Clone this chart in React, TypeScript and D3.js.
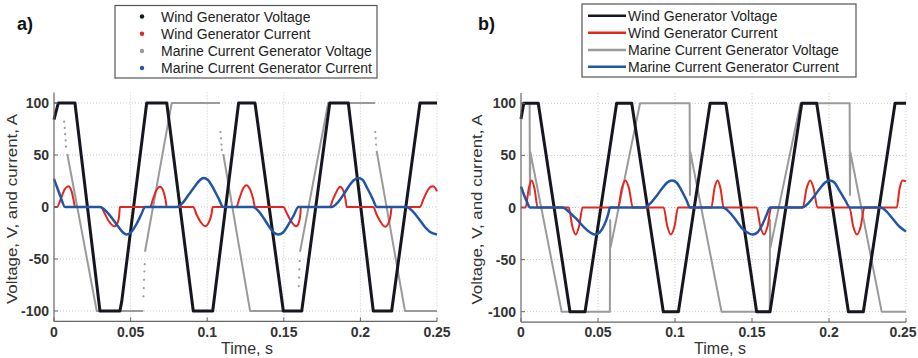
import React from "react";
import * as d3 from "d3";

type P = [number, number];
type Pn = P | null;

const xTicks = [0, 0.05, 0.1, 0.15, 0.2, 0.25];
const xTickLabels = ["0", "0.05", "0.1", "0.15", "0.2", "0.25"];
const yTicks = [100, 50, 0, -50, -100];
const yTickLabels = ["100", "50", "0", "-50", "-100"];
const seriesNames = [
  "Wind Generator Voltage",
  "Wind Generator Current",
  "Marine Current Generator Voltage",
  "Marine Current Generator Current",
];
const seriesColors = ["#16161e", "#e3261e", "#9a9a9a", "#2256a4"];

// ---------- panel a) (sampled points) ----------
const aWindVoltage: Pn[] = [
  [0, 84], [0.0028, 100], [0.0137, 100], [0.0144, 91], [0.03, -100], [0.043, -100],
  [0.0442, -91], [0.0605, 100], [0.0736, 100], [0.0909, -100], [0.1036, -100],
  [0.1205, 100], [0.1312, 100], [0.1497, -100], [0.1617, -100], [0.18, 100],
  [0.1921, 100], [0.2084, -100], [0.2204, -100], [0.2389, 100], [0.25, 100],
];
const aWindCurrent: Pn[] = [
  [0, 0], [0.002, 0], [0.0045, 8], [0.007, 17], [0.0093, 20], [0.0115, 15], [0.013, 5], [0.0137, 0],
  [0.0305, 0], [0.033, -6], [0.0355, -13], [0.038, -17.5], [0.0398, -18.5], [0.0415, -15], [0.0425, -9], [0.043, 0],
  [0.0627, 0], [0.0645, 7], [0.0665, 15], [0.0692, 19.5], [0.0712, 16], [0.0728, 7], [0.0736, 0],
  [0.0909, 0], [0.093, -7], [0.0955, -14], [0.0986, -18.5], [0.101, -15], [0.1028, -7], [0.1036, 0],
  [0.119, 0], [0.121, 8], [0.1232, 17], [0.1255, 21], [0.128, 17], [0.13, 8], [0.1312, 0],
  [0.1497, 0], [0.152, -6], [0.1545, -13], [0.1568, -17.5], [0.1582, -18.5], [0.1598, -15], [0.1608, -7], [0.1612, 0],
  [0.18, 0], [0.182, 7], [0.1845, 15], [0.1867, 19.5], [0.1888, 16], [0.1903, 7], [0.1911, 0],
  [0.2084, 0], [0.2105, -7], [0.213, -14], [0.2161, -19], [0.2185, -15], [0.2198, -7], [0.2204, 0],
  [0.2389, 0], [0.241, 7], [0.2435, 15], [0.246, 19.5], [0.2476, 20], [0.249, 18], [0.25, 15],
];
const aMarineVoltage: Pn[] = [
  [0, 100], [0.0058, 100], null,
  [0.0087, 51], [0.0279, -100], [0.0583, -100], null,
  [0.0594, -43], [0.0768, 100], [0.1084, 100], null,
  [0.1105, 51], [0.128, -100], [0.1595, -100], null,
  [0.1606, -43], [0.179, 100], [0.2095, 100], null,
  [0.2106, 54], [0.2291, -100], [0.25, -100],
];
const aMarineVoltageSparse: P[] = [
  [0.0066, 82], [0.007, 76], [0.0073, 70], [0.0076, 64], [0.0079, 58],
  [0.0584, -86], [0.0586, -78], [0.0588, -70], [0.059, -62], [0.0592, -55],
  [0.1087, 72], [0.109, 66], [0.1093, 60], [0.1096, 55],
  [0.1598, -76], [0.16, -68], [0.1602, -60], [0.1604, -52],
  [0.2097, 72], [0.21, 66], [0.2103, 60],
];
const aMarineCurrent: Pn[] = [
  [0, 27], [0.002, 19], [0.0045, 9], [0.0072, 0],
  [0.03, 0], [0.034, -4], [0.038, -11], [0.042, -19], [0.045, -24.5], [0.0474, -26.5], [0.0505, -24], [0.054, -16], [0.057, -7], [0.0594, 0],
  [0.08, 0], [0.084, 4], [0.088, 12], [0.092, 20], [0.095, 25.5], [0.0975, 28], [0.1005, 26], [0.104, 18], [0.1075, 8], [0.1105, 0],
  [0.13, 0], [0.1335, -4], [0.137, -11], [0.1405, -19], [0.1435, -24.5], [0.1464, -26.5], [0.1495, -24.5], [0.153, -17], [0.1565, -8], [0.1595, 0],
  [0.1813, 0], [0.185, 4], [0.189, 12], [0.1925, 20], [0.1955, 25.5], [0.1986, 28], [0.2015, 26], [0.2045, 18], [0.208, 8], [0.2106, 0],
  [0.2302, 0], [0.234, -4], [0.238, -11], [0.242, -19], [0.2455, -24], [0.25, -26.5],
];

// ---------- panel b) (continuous lines) ----------
const bWindVoltage: Pn[] = [
  [0, 85], [0.0018, 100], [0.0112, 100], [0.0318, -100], [0.0416, -100], [0.0621, 100],
  [0.0719, 100], [0.0924, -100], [0.1022, -100], [0.1228, 100], [0.133, 100], [0.153, -100],
  [0.1617, -100], [0.1823, 100], [0.192, 100], [0.2126, -100], [0.2223, -100], [0.2429, 100], [0.25, 100],
];
const bWindCurrent: Pn[] = [
  [0, 0], [0.003, 0], [0.005, 18], [0.0069, 26], [0.0088, 18], [0.0108, 0],
  [0.031, 0], [0.0333, -18], [0.0355, -26], [0.0377, -18], [0.04, 0],
  [0.063, 0], [0.0654, 18], [0.0678, 26], [0.0702, 18], [0.0726, 0],
  [0.0926, 0], [0.095, -18], [0.0973, -26], [0.0997, -18], [0.102, 0],
  [0.1236, 0], [0.1256, 18], [0.1276, 26], [0.1296, 18], [0.1316, 0],
  [0.153, 0], [0.1554, -18], [0.1578, -26], [0.1601, -18], [0.1625, 0],
  [0.183, 0], [0.1854, 18], [0.1878, 26], [0.1901, 18], [0.1925, 0],
  [0.2133, 0], [0.2157, -18], [0.2182, -26], [0.2206, -18], [0.223, 0],
  [0.244, 0], [0.2458, 18], [0.2478, 26], [0.25, 25],
];
const bMarineVoltage: Pn[] = [
  [0, 100], [0.0056, 100], [0.0058, 12], [0.0061, 53], [0.0264, -100],
  [0.0577, -100], [0.0579, -12], [0.0582, -38], [0.0773, 100],
  [0.1095, 100], [0.1097, 12], [0.11, 53], [0.1302, -100],
  [0.1615, -100], [0.1617, -12], [0.162, -38], [0.1815, 100],
  [0.2134, 100], [0.2136, 12], [0.2139, 53], [0.2342, -100], [0.25, -100],
];
const bMarineCurrent: Pn[] = [
  [0, 20], [0.002, 12], [0.004, 5], [0.0058, 0],
  [0.027, 0], [0.031, -4], [0.036, -11], [0.041, -19], [0.045, -24], [0.048, -26], [0.051, -24], [0.054, -17], [0.0565, -7], [0.0578, 0],
  [0.08, 0], [0.084, 4], [0.088, 11], [0.092, 19], [0.095, 24], [0.098, 26], [0.101, 24], [0.104, 17], [0.1075, 7], [0.1097, 0],
  [0.131, 0], [0.135, -4], [0.139, -11], [0.143, -19], [0.147, -24], [0.1505, -26], [0.1535, -24], [0.1565, -17], [0.1595, -7], [0.1617, 0],
  [0.1825, 0], [0.1865, 4], [0.1905, 11], [0.1945, 19], [0.1975, 24], [0.2005, 26], [0.2035, 24], [0.2065, 17], [0.2105, 7], [0.2136, 0],
  [0.2335, 0], [0.2375, -4], [0.2415, -11], [0.2455, -18], [0.25, -23],
];

const FONT = "'Liberation Sans', Arial, Helvetica, sans-serif";

type PanelProps = {
  tag: string;
  tagX: number;
  xr: [number, number];
  yr: [number, number];
  ytitleX: number;
  xtitleX: number;
  dots: boolean;
  windV: Pn[];
  windI: Pn[];
  marineV: Pn[];
  marineI: Pn[];
  sparse?: P[];
  legend: { x: number; y: number; w: number; h: number; rows: number[] };
};

function Panel(p: PanelProps) {
  const x = d3.scaleLinear().domain([0, 0.25]).range(p.xr);
  const y = d3.scaleLinear().domain([-110, 110]).range(p.yr);
  const line = d3
    .line<Pn>()
    .defined((d) => d !== null)
    .x((d) => x((d as P)[0]))
    .y((d) => y((d as P)[1]));
  const smooth = d3
    .line<Pn>()
    .defined((d) => d !== null)
    .x((d) => x((d as P)[0]))
    .y((d) => y((d as P)[1]))
    .curve(d3.curveMonotoneX);
  const [x0, x1] = p.xr;
  const yb = p.yr[0];
  const yt = p.yr[1];
  const lg = p.legend;
  return (
    <g>
      <text x={p.tagX} y={30} fontFamily={FONT} fontWeight="bold" fontSize={18} fill="#111">
        {p.tag}
      </text>
      {/* grid */}
      {xTicks.slice(1).map((t) => (
        <line key={"gx" + t} x1={x(t)} x2={x(t)} y1={yb} y2={yt} stroke="#c8c8c8" strokeWidth={1} strokeDasharray="1 2" />
      ))}
      {yTicks.map((t) => (
        <line key={"gy" + t} x1={x0} x2={x1} y1={y(t)} y2={y(t)} stroke="#c8c8c8" strokeWidth={1} strokeDasharray="1 2" />
      ))}
      {/* series */}
      <path d={line(p.marineV) || ""} fill="none" stroke={seriesColors[2]} strokeWidth={2} strokeLinejoin="round" />
      {p.sparse &&
        p.sparse.map((d, i) => (
          <circle key={"sp" + i} cx={x(d[0])} cy={y(d[1])} r={1.1} fill={seriesColors[2]} />
        ))}
      <path d={line(p.windV) || ""} fill="none" stroke={seriesColors[0]} strokeWidth={3} strokeLinejoin="round" />
      <path d={smooth(p.windI) || ""} fill="none" stroke={seriesColors[1]} strokeWidth={2} strokeLinejoin="round" />
      <path d={smooth(p.marineI) || ""} fill="none" stroke={seriesColors[3]} strokeWidth={2.5} strokeLinejoin="round" />
      {/* axes */}
      <line x1={x0} x2={x0} y1={yt} y2={yb} stroke="#666" strokeWidth={1.2} />
      <line x1={x0} x2={x1} y1={yb} y2={yb} stroke="#666" strokeWidth={1.2} />
      {xTicks.map((t) => (
        <line key={"tx" + t} x1={x(t)} x2={x(t)} y1={yb} y2={yb - 4} stroke="#666" strokeWidth={1} />
      ))}
      {yTicks.map((t) => (
        <line key={"ty" + t} x1={x0} x2={x0 + 4} y1={y(t)} y2={y(t)} stroke="#666" strokeWidth={1} />
      ))}
      {xTicks.map((t, i) => (
        <text
          key={"lx" + t}
          x={Math.min(x(t), 903)}
          y={337}
          textAnchor="middle"
          fontFamily={FONT}
          fontWeight="bold"
          fontSize={14}
          fill="#333"
        >
          {xTickLabels[i]}
        </text>
      ))}
      {yTicks.map((t, i) => (
        <text key={"ly" + t} x={x0 - 5} y={y(t) + 5} textAnchor="end" fontFamily={FONT} fontWeight="bold" fontSize={14} fill="#333">
          {yTickLabels[i]}
        </text>
      ))}
      <text x={p.xtitleX} y={354} textAnchor="middle" fontFamily={FONT} fontSize={16} fill="#333">
        Time, s
      </text>
      <text
        transform={`translate(${p.ytitleX},${(yb + yt) / 2 + 2}) rotate(-90)`}
        textAnchor="middle"
        fontFamily={FONT}
        fontSize={14}
        fill="#333"
        textLength={190}
        lengthAdjust="spacingAndGlyphs"
      >
        Voltage, V, and current, A
      </text>
      {/* legend */}
      <rect x={lg.x} y={lg.y} width={lg.w} height={lg.h} fill="#fff" stroke="#555" strokeWidth={1.2} />
      {seriesNames.map((n, i) => (
        <g key={"lg" + i}>
          {p.dots ? (
            <circle cx={lg.x + 27} cy={lg.rows[i] - 5} r={2.2} fill={seriesColors[i]} />
          ) : (
            <line x1={lg.x + 6} x2={lg.x + 44} y1={lg.rows[i] - 5} y2={lg.rows[i] - 5} stroke={seriesColors[i]} strokeWidth={2.5} />
          )}
          <text x={lg.x + 46} y={lg.rows[i]} fontFamily={FONT} fontSize={14} fill="#222">
            {n}
          </text>
        </g>
      ))}
    </g>
  );
}

export default function App() {
  return (
    <div style={{ position: "absolute", left: 0, top: 0 }}>
      <svg width={918} height={358} style={{ display: "block", background: "#fff" }}>
        <Panel
          tag="a)"
          tagX={17}
          xr={[54, 437]}
          yr={[321.4, 92.6]}
          ytitleX={17}
          xtitleX={247}
          dots={true}
          windV={aWindVoltage}
          windI={aWindCurrent}
          marineV={aMarineVoltage}
          marineI={aMarineCurrent}
          sparse={aMarineVoltageSparse}
          legend={{ x: 115, y: 5.5, w: 262, h: 72.5, rows: [21.5, 38.8, 56, 73] }}
        />
        <Panel
          tag="b)"
          tagX={478}
          xr={[521, 906]}
          yr={[322.1, 92.9]}
          ytitleX={482}
          xtitleX={720}
          dots={false}
          windV={bWindVoltage}
          windI={bWindCurrent}
          marineV={bMarineVoltage}
          marineI={bMarineCurrent}
          legend={{ x: 582, y: 4, w: 274, h: 73, rows: [20.7, 37.7, 55, 71.7] }}
        />
      </svg>
    </div>
  );
}
